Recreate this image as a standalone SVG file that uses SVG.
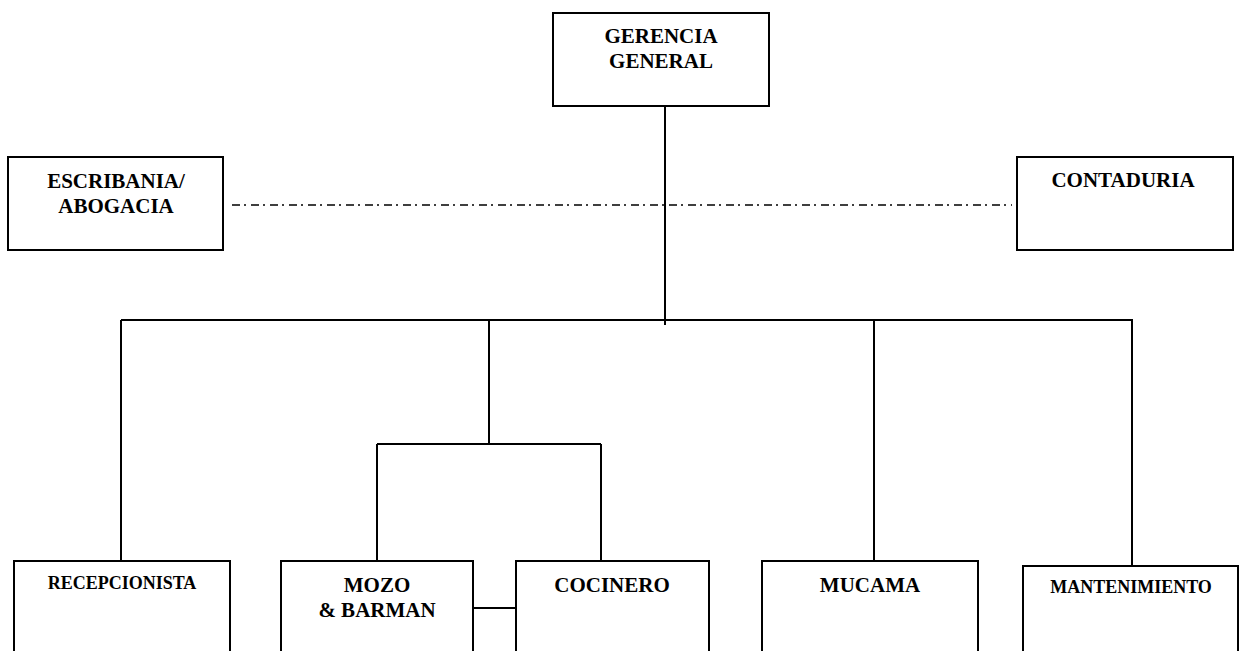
<svg xmlns="http://www.w3.org/2000/svg" width="1245" height="651" viewBox="0 0 1245 651">
<style>
.box{fill:#fff;stroke:#000;stroke-width:2}
.t{font-family:"Liberation Serif","Times New Roman",serif;font-weight:bold;font-size:21px;fill:#000;text-anchor:middle}
.s{font-size:18px}
.ln{stroke:#000;stroke-width:2;fill:none}
.dd{stroke:#000;stroke-width:1.5;fill:none;stroke-dasharray:8 4 2 5}
</style>
<rect width="1245" height="651" fill="#fff"/>
<g id="connectors">
<line class="ln" x1="665" y1="106" x2="665" y2="325"/>
<line class="ln" x1="121" y1="320" x2="1132" y2="320"/>
<line class="ln" x1="121" y1="320" x2="121" y2="566"/>
<line class="ln" x1="489" y1="320" x2="489" y2="444"/>
<line class="ln" x1="377" y1="444" x2="601" y2="444"/>
<line class="ln" x1="377" y1="444" x2="377" y2="561"/>
<line class="ln" x1="601" y1="444" x2="601" y2="561"/>
<line class="ln" x1="874" y1="320" x2="874" y2="561"/>
<line class="ln" x1="1132" y1="319" x2="1132" y2="566"/>
<line class="ln" x1="473" y1="608" x2="516" y2="608"/>
<line class="dd" x1="232" y1="205" x2="1012" y2="205"/>
</g>
<g id="gerencia">
<rect class="box" x="553" y="13" width="216" height="93"/>
<text class="t" x="661" y="43">GERENCIA</text>
<text class="t" x="661" y="68">GENERAL</text>
</g>
<g id="escribania">
<rect class="box" x="8" y="157" width="215" height="93"/>
<text class="t" x="116" y="188">ESCRIBANIA/</text>
<text class="t" x="116" y="213">ABOGACIA</text>
</g>
<g id="contaduria">
<rect class="box" x="1017" y="157" width="216" height="93"/>
<text class="t" x="1123" y="187">CONTADURIA</text>
</g>
<g id="recepcionista">
<rect class="box" x="14" y="561" width="216" height="100"/>
<text class="t s" x="122" y="589">RECEPCIONISTA</text>
</g>
<g id="mozo">
<rect class="box" x="281" y="561" width="192" height="100"/>
<text class="t" x="377" y="592">MOZO</text>
<text class="t" x="377" y="617">&amp; BARMAN</text>
</g>
<g id="cocinero">
<rect class="box" x="516" y="561" width="193" height="100"/>
<text class="t" x="612" y="592">COCINERO</text>
</g>
<g id="mucama">
<rect class="box" x="762" y="561" width="216" height="100"/>
<text class="t" x="870" y="592">MUCAMA</text>
</g>
<g id="mantenimiento">
<rect class="box" x="1023" y="566" width="215" height="100"/>
<text class="t s" x="1131" y="593">MANTENIMIENTO</text>
</g>
</svg>
